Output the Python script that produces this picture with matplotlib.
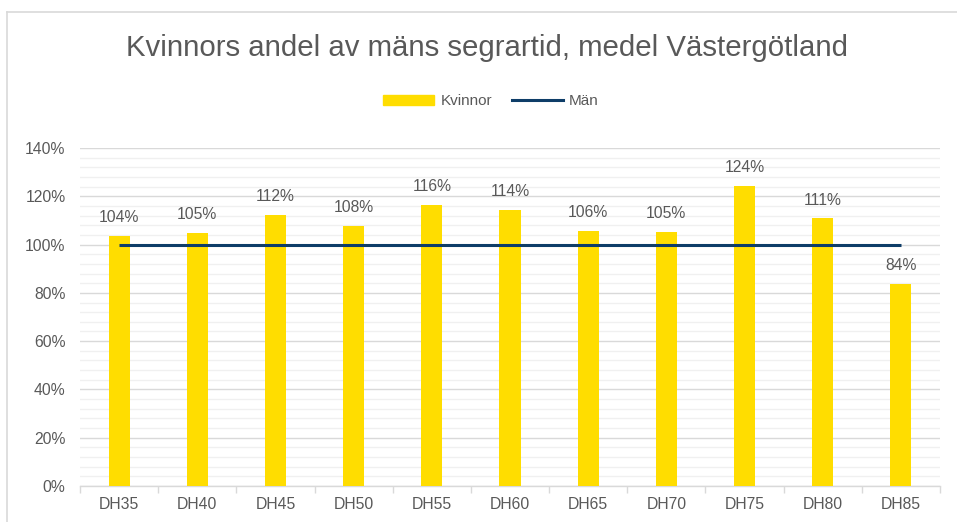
import matplotlib
matplotlib.use("Agg")
import matplotlib.pyplot as plt
from matplotlib.lines import Line2D
from matplotlib.ticker import MultipleLocator, FuncFormatter
import numpy as np

categories = ["DH35", "DH40", "DH45", "DH50", "DH55", "DH60", "DH65", "DH70", "DH75", "DH80", "DH85"]
kvinnor = [1.037, 1.048, 1.123, 1.077, 1.163, 1.145, 1.056, 1.053, 1.244, 1.108, 0.836]
man = [1.0] * len(categories)

title = "Kvinnors andel av mäns segrartid, medel Västergötland"
yellow = "#FFDD00"
navy = "#0E3D68"
txt = "#595959"

plt.rcParams["font.family"] = ["Liberation Sans", "DejaVu Sans"]

fig = plt.figure(figsize=(9.57, 5.22), dpi=100)
ax = fig.add_axes([80/957, 1-486/522, 860/957, (486-148)/522])

x = np.arange(len(categories))
ax.bar(x, kvinnor, width=0.27, color=yellow, label="Kvinnor", zorder=3)
ax.plot(x, man, color=navy, linewidth=2.2, label="Män", zorder=4, solid_capstyle="butt")

for xi, v in zip(x, kvinnor):
    ax.text(xi, v + 0.045, f"{round(v*100):.0f}%", ha="center", va="bottom",
            fontsize=11.3, color=txt, zorder=5)

ax.set_xlim(-0.5, len(categories) - 0.5)
ax.set_ylim(0, 1.4)
ax.yaxis.set_major_locator(MultipleLocator(0.2))
ax.yaxis.set_minor_locator(MultipleLocator(0.04))
ax.yaxis.set_major_formatter(FuncFormatter(lambda v, p: f"{v*100:.0f}%"))
ax.grid(which="major", axis="y", color="#D9D9D9", linewidth=1.0, zorder=0)
ax.grid(which="minor", axis="y", color="#F0F0F0", linewidth=1.0, zorder=0)
ax.set_axisbelow(True)

for s in ["top", "right", "left"]:
    ax.spines[s].set_visible(False)
ax.spines["bottom"].set_color("#D9D9D9")
ax.spines["bottom"].set_linewidth(1.0)
ax.spines["bottom"].set_zorder(2)

ax.set_xticks(x)
ax.set_xticklabels(categories)
ax.set_xticks(np.arange(-0.5, len(categories)), minor=True)
ax.tick_params(axis="x", which="major", length=0, labelsize=11.3, labelcolor=txt, pad=8)
ax.tick_params(axis="x", which="minor", length=5, color="#D9D9D9", width=1)
ax.tick_params(axis="y", which="both", length=0, labelsize=11.3, labelcolor=txt, pad=10.5)

fig.text(487/957, 1-48/522, title, ha="center", va="center", fontsize=21.2, color=txt)

handles = [plt.Rectangle((0, 0), 1, 1, color=yellow), Line2D([0], [0], color=navy, linewidth=2.2)]
fig.legend(handles, ["Kvinnor", "Män"], loc="center", bbox_to_anchor=(491/957, 1-101/522),
           ncol=2, frameon=False, fontsize=11, labelcolor=txt, handlelength=3.35,
           handleheight=0.65, columnspacing=1.3, handletextpad=0.4)

fig.add_artist(Line2D([7/957, 1], [1-11.5/522, 1-11.5/522], color="#D9D9D9", linewidth=1.2, transform=fig.transFigure))
fig.add_artist(Line2D([7.5/957, 7.5/957], [0, 1-11.5/522], color="#D9D9D9", linewidth=1.2, transform=fig.transFigure))

fig.savefig("out.png", dpi=100)
